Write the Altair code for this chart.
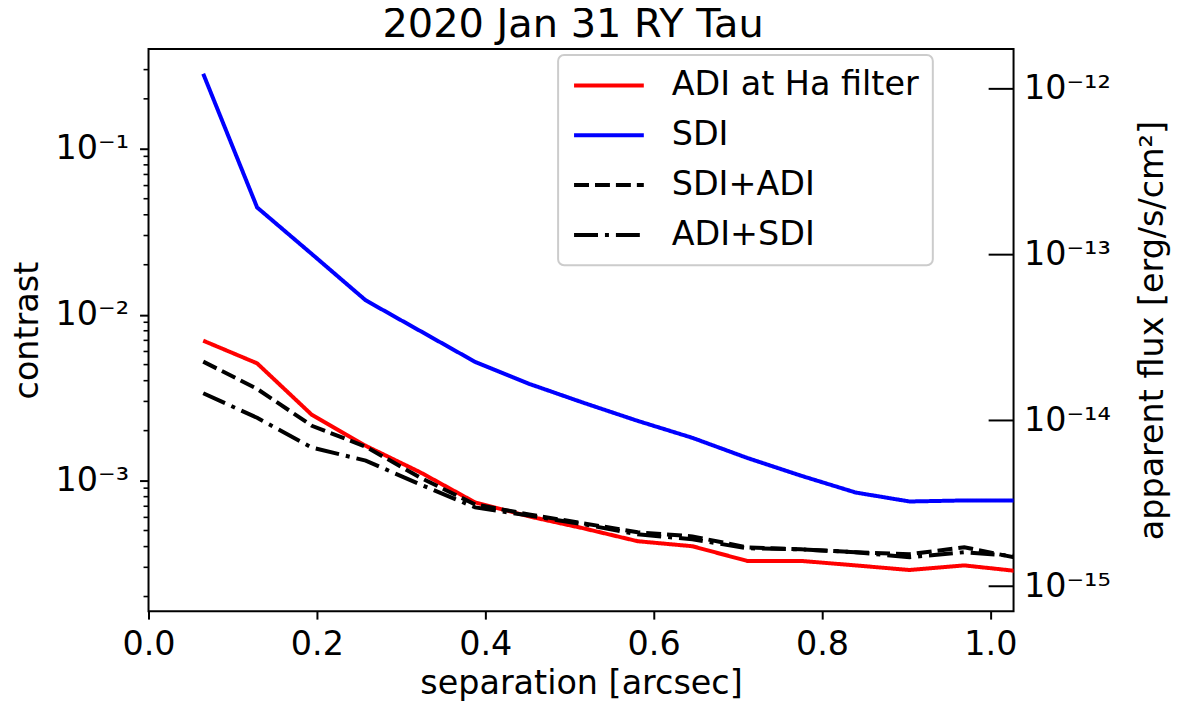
import altair as alt
import pandas as pd

# ---- data ----
separation = [0.065, 0.129, 0.194, 0.258, 0.323, 0.388, 0.452, 0.517,
              0.581, 0.646, 0.711, 0.775, 0.840, 0.904, 0.969, 1.034]
adi_ha = [0.00697, 0.00509, 0.00249, 0.00162, 0.00112, 0.000738, 0.000608, 0.000515,
          0.000431, 0.000402, 0.000328, 0.000328, 0.000308, 0.000289, 0.000308, 0.000284]
sdi = [0.283, 0.0443, 0.0232, 0.0122, 0.00796, 0.00519, 0.00383, 0.00294,
       0.00229, 0.00181, 0.00137, 0.00107, 0.000847, 0.000748, 0.000759, 0.000759]
sdi_adi = [0.00521, 0.00357, 0.00214, 0.00160, 0.00104, 0.000718, 0.000625, 0.000552,
           0.000488, 0.000461, 0.000396, 0.000385, 0.000370, 0.000360, 0.000396, 0.000340]
adi_sdi = [0.00336, 0.00239, 0.00158, 0.00132, 0.000946, 0.000689, 0.000615, 0.000545,
           0.000474, 0.000443, 0.000391, 0.000385, 0.000370, 0.000345, 0.000370, 0.000350]

series_names = ["ADI at Ha filter", "SDI", "SDI+ADI", "ADI+SDI"]
series_colors = ["#ff0000", "#0000ff", "#000000", "#000000"]
series_dashes = [[1, 0], [1, 0], [15, 6], [24, 7, 4, 7]]

x_ticks = [0.0, 0.2, 0.4, 0.6, 0.8, 1.0]
left_major = [1e-3, 1e-2, 1e-1]
left_minor = [2e-4, 3e-4, 4e-4, 5e-4, 6e-4, 7e-4, 8e-4, 9e-4,
              2e-3, 3e-3, 4e-3, 5e-3, 6e-3, 7e-3, 8e-3, 9e-3,
              2e-2, 3e-2, 4e-2, 5e-2, 6e-2, 7e-2, 8e-2, 9e-2,
              2e-1, 3e-1]
flux_ticks = [1e-12, 1e-13, 1e-14, 1e-15]

x_domain = [0.0, 1.0275]
contrast_domain = [10 ** -3.787, 10 ** -0.399]
flux_domain = [10 ** -15.150, 10 ** -11.760]

W, H = 868, 564
FONT = "DejaVu Sans"
FS = 33.5

rows = []
for name, vals in zip(series_names, [adi_ha, sdi, sdi_adi, adi_sdi]):
    for s, v in zip(separation, vals):
        rows.append({"separation": s, "contrast": v, "series": name})
df = pd.DataFrame(rows)

exp_expr = "round(log(datum.value)/LN10)"
left_label = (f"{exp_expr} == -1 ? '10⁻¹' : {exp_expr} == -2 ? '10⁻²' : "
              f"{exp_expr} == -3 ? '10⁻³' : ''")
right_label = (f"{exp_expr} == -12 ? '10⁻¹²' : {exp_expr} == -13 ? '10⁻¹³' : "
               f"{exp_expr} == -14 ? '10⁻¹⁴' : {exp_expr} == -15 ? '10⁻¹⁵' : ''")

x_enc = alt.X("separation:Q",
              scale=alt.Scale(domain=x_domain, nice=False, zero=False),
              axis=alt.Axis(values=x_ticks, format=".1f", title="separation [arcsec]",
                            tickSize=8, labelPadding=10, titlePadding=6, domain=False,
                            grid=False))

legend = alt.Legend(title=None, orient="none", legendX=411, legendY=6)

lines = alt.Chart(df).mark_line(strokeWidth=4, clip=True).encode(
    x=x_enc,
    y=alt.Y("contrast:Q",
            scale=alt.Scale(type="log", domain=contrast_domain, nice=False),
            axis=alt.Axis(values=left_major, labelExpr=left_label, title="contrast",
                          tickSize=9, labelPadding=11, titlePadding=11, domain=False,
                          grid=False)),
    color=alt.Color("series:N",
                    scale=alt.Scale(domain=series_names, range=series_colors),
                    legend=legend),
    strokeDash=alt.StrokeDash("series:N",
                              scale=alt.Scale(domain=series_names, range=series_dashes),
                              legend=legend),
    order=alt.Order("separation:Q"),
)

minor_df = pd.DataFrame({"contrast": left_minor})
minor = alt.Chart(minor_df).mark_rule(color="black", strokeWidth=1.6).encode(
    y=alt.Y("contrast:Q",
            scale=alt.Scale(type="log", domain=contrast_domain, nice=False),
            axis=None),
    x=alt.value(-5),
    x2=alt.value(0),
)

flux_df = pd.DataFrame({"flux": flux_ticks})
right = alt.Chart(flux_df).mark_rule(color="black", strokeWidth=2).encode(
    y=alt.Y("flux:Q",
            scale=alt.Scale(type="log", domain=flux_domain, nice=False),
            axis=alt.Axis(orient="right", values=flux_ticks, labelExpr=right_label,
                          title="apparent flux [erg/s/cm²]", ticks=False, tickSize=0,
                          labelPadding=10, titlePadding=26, titleAngle=270,
                          titleBaseline="top", domain=False, grid=False)),
    x=alt.value(W - 25),
    x2=alt.value(W),
)

chart = alt.layer(lines, minor, right).resolve_scale(y="independent").properties(
    width=W, height=H,
    title=alt.TitleParams("2020 Jan 31 RY Tau", fontSize=40, font=FONT,
                          fontWeight="normal", color="black", anchor="middle",
                          offset=4, dx=-8),
    autosize=alt.AutoSizeParams(type="none"),
    padding={"left": 141, "top": 40, "right": 160, "bottom": 97},
).configure_view(
    stroke="black", strokeWidth=2,
).configure_axis(
    labelFont=FONT, titleFont=FONT, labelFontSize=FS, titleFontSize=FS,
    labelColor="black", titleColor="black", tickColor="black", tickWidth=2,
    titleFontWeight="normal", labelFlush=False, labelOverlap=False,
).configure_legend(
    labelFont=FONT, labelFontSize=FS, labelColor="black", labelLimit=500,
    symbolType="stroke", symbolSize=4900, symbolStrokeWidth=4,
    labelOffset=26, rowPadding=16, padding=14, clipHeight=33,
    fillColor="white", strokeColor="#cccccc", strokeWidth=2, cornerRadius=6,
)

chart.save("out.html", embed_options={"renderer": "svg", "actions": False})
